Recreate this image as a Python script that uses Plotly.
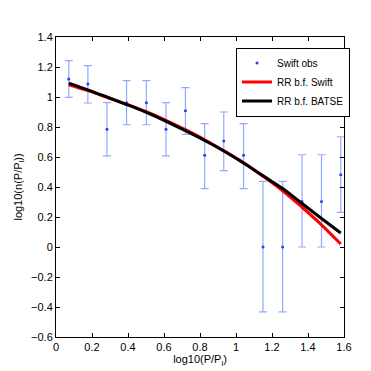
import plotly.graph_objects as go

# observed points (log10 P/Pl, log10 n) with error bars
obs_x = [0.071, 0.177, 0.283, 0.392, 0.502, 0.611, 0.719, 0.826, 0.932, 1.042,
         1.150, 1.259, 1.367, 1.475, 1.582]
obs_y = [1.120, 1.087, 0.785, 0.962, 0.962, 0.785, 0.909, 0.611, 0.707, 0.611,
         0.000, 0.000, 0.304, 0.304, 0.482]
err_up = [0.122, 0.122, 0.177, 0.147, 0.147, 0.177, 0.153, 0.211, 0.193, 0.211,
          0.437, 0.437, 0.311, 0.311, 0.253]
err_dn = [0.122, 0.127, 0.178, 0.147, 0.147, 0.178, 0.159, 0.222, 0.198, 0.222,
          0.433, 0.433, 0.304, 0.304, 0.251]

# best-fit curves
fit_x = [0.071, 0.177, 0.283, 0.392, 0.502, 0.611, 0.719, 0.826, 0.932, 1.042,
         1.150, 1.259, 1.367, 1.475, 1.582]
fit_swift = [1.082, 1.042, 0.998, 0.952, 0.902, 0.845, 0.782, 0.715, 0.642, 0.562,
             0.472, 0.375, 0.265, 0.148, 0.020]
fit_batse = [1.093, 1.048, 1.000, 0.950, 0.897, 0.838, 0.775, 0.710, 0.640, 0.560,
             0.475, 0.390, 0.290, 0.190, 0.093]

x_ticks = [0, 0.2, 0.4, 0.6, 0.8, 1.0, 1.2, 1.4, 1.6]
x_labels = ["0", "0.2", "0.4", "0.6", "0.8", "1", "1.2", "1.4", "1.6"]
y_ticks = [-0.6, -0.4, -0.2, 0, 0.2, 0.4, 0.6, 0.8, 1.0, 1.2, 1.4]
y_labels = ["\u22120.6", "\u22120.4", "\u22120.2", "0", "0.2", "0.4", "0.6", "0.8",
            "1", "1.2", "1.4"]

FONT = "Liberation Sans Narrow, Liberation Sans, Arial, sans-serif"

fig = go.Figure()
fig.add_trace(go.Scatter(
    x=obs_x, y=obs_y, mode="markers", name="Swift obs",
    marker=dict(color="#2040ff", size=3),
    error_y=dict(type="data", symmetric=False, array=err_up, arrayminus=err_dn,
                 color="rgba(110,140,255,0.75)", thickness=1.2, width=4),
))
fig.add_trace(go.Scatter(
    x=fit_x, y=fit_swift, mode="lines", name="RR b.f. Swift",
    line=dict(color="#ff0000", width=3, shape="spline"),
))
fig.add_trace(go.Scatter(
    x=fit_x, y=fit_batse, mode="lines", name="RR b.f. BATSE",
    line=dict(color="#000000", width=3, shape="spline"),
))

axis_common = dict(
    showgrid=False, zeroline=False, showline=True, linecolor="#000000",
    linewidth=1, mirror="ticks", ticks="inside", ticklen=4, tickcolor="#000000",
    tickfont=dict(size=11, color="#000000"), automargin=False,
)

fig.update_layout(
    width=371, height=371,
    margin=dict(l=48, r=35, t=29, b=42),
    paper_bgcolor="white", plot_bgcolor="white",
    font=dict(family=FONT, size=11, color="#000000"),
    xaxis=dict(range=[0, 1.6], tickmode="array", tickvals=x_ticks, ticktext=x_labels,
               title=dict(text="log10(P/P<sub>l</sub>)", font=dict(size=11), standoff=2),
               **axis_common),
    yaxis=dict(range=[-0.6, 1.4], tickmode="array", tickvals=y_ticks, ticktext=y_labels,
               title=dict(text="log10(n(P/P<sub>l</sub>))", font=dict(size=11), standoff=6),
               **axis_common),
    legend=dict(x=0.625, y=0.965, xanchor="left", yanchor="top",
                bgcolor="white", bordercolor="#000000", borderwidth=1,
                font=dict(size=10), tracegroupgap=0, itemwidth=30),
    showlegend=True,
)

fig.write_html("out.html")
